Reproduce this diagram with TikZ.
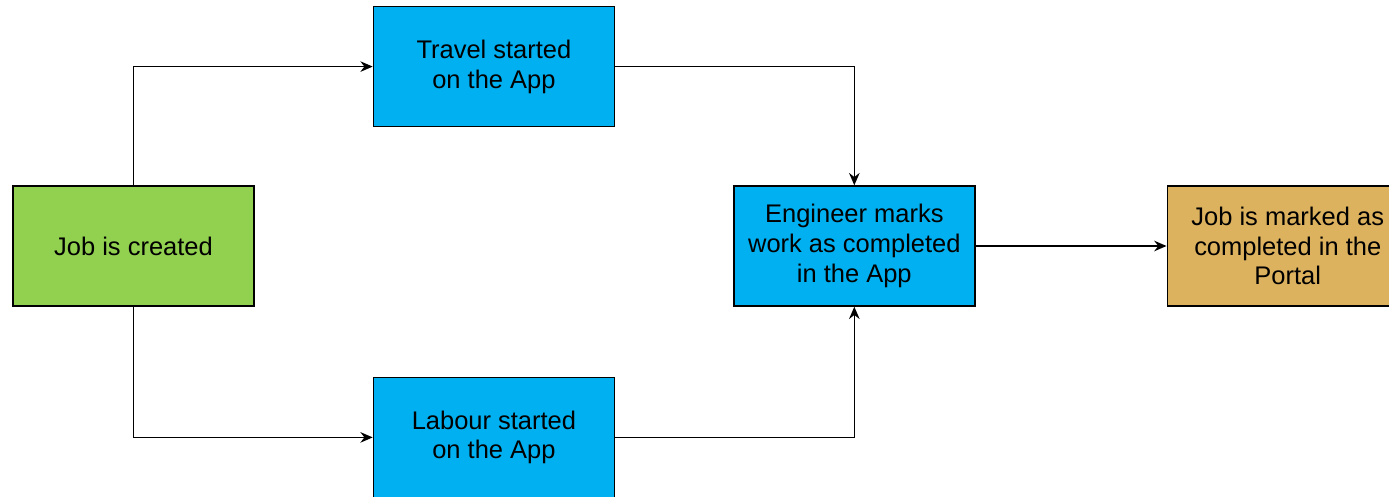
\documentclass[tikz,border=0pt]{standalone}
\usepackage{fontspec}
\setmainfont{Liberation Sans}
\usetikzlibrary{arrows.meta,positioning}

\definecolor{jobgreen}{RGB}{146,208,80}
\definecolor{appblue}{RGB}{0,176,240}
\definecolor{portaltan}{RGB}{221,178,95}

\begin{document}
\begin{tikzpicture}[>={Stealth[length=7pt,width=6pt]},line width=0.8pt,
  box/.style={draw,rectangle,minimum width=4.82cm,minimum height=2.4cm,
    align=center,font=\fontsize{14.5}{17}\selectfont}]

  \useasboundingbox (0,0) rectangle (27.78,-9.94);

  \node[box,fill=jobgreen]  (J) at (2.67,-4.92) {Job is created};
  \node[box,fill=appblue]   (T) [above right=1.16cm and 2.36cm of J] {Travel started\\on the App};
  \node[box,fill=appblue]   (L) [below right=1.4cm and 2.36cm of J] {Labour started\\on the App};
  \node[box,fill=appblue]   (E) [below right=1.16cm and 2.36cm of T] {Engineer marks\\work as completed\\in the App};
  \node[box,fill=portaltan] (P) [right=3.82cm of E] {Job is marked as\\completed in the\\Portal};

  \draw[->] (J.north) |- (T.west);
  \draw[->] (J.south) |- (L.west);
  \draw[->] (T.east) -| (E.north);
  \draw[->] (L.east) -| (E.south);
  \draw[->] (E) -- (P);
\end{tikzpicture}
\end{document}
